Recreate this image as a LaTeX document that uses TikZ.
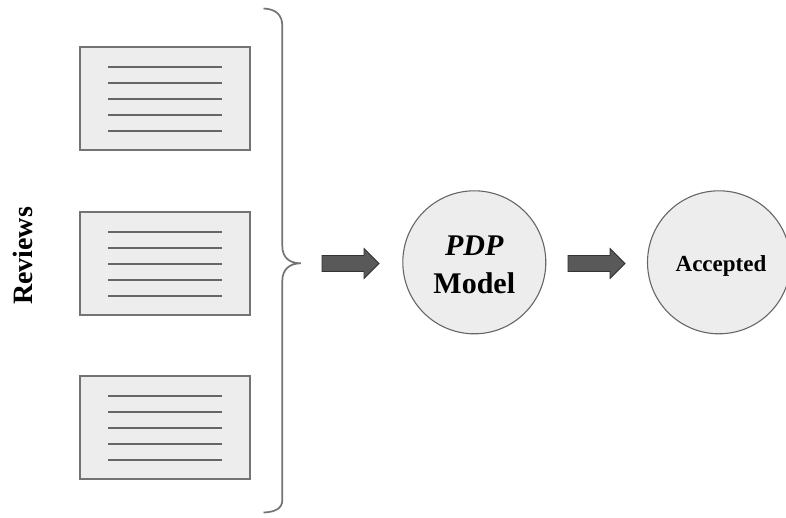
\documentclass[tikz,border=0pt]{standalone}
\usepackage{fontspec}
\setmainfont{Liberation Serif}
\usetikzlibrary{calc}
\begin{document}
\begin{tikzpicture}[x=1pt,y=-1pt,
  docbox/.style={draw=black!55,line width=2pt,fill=black!7,minimum width=170pt,minimum height=103pt,inner sep=0pt},
  docline/.style={draw=black!60,line width=2pt},
  brace/.style={draw=black!55,line width=1.7pt},
  stage/.style={circle,draw=black!60,line width=1.1pt,fill=black!7,minimum size=143pt,inner sep=0pt},
  blockarrow/.style={fill=black!65,draw=black!80,line width=0.8pt,line join=miter},
  lbl/.style={font=\bfseries,inner sep=0pt}]
\useasboundingbox (0,0) rectangle (786,517);
% documents
\node[docbox] (d1) at (165,98) {};
\node[docbox] (d2) at (165,263) {};
\node[docbox] (d3) at (165,427) {};
\foreach \d in {d1,d2,d3}{
  \foreach \o in {-32,-16,0,16,32}{
    \draw[docline] ($(\d.center)+(-57,\o+0.5)$) -- ($(\d.center)+(57,\o+0.5)$);
  }
}
% reviews label
\node[lbl,rotate=90,anchor=south,font=\bfseries\fontsize{28}{30}\selectfont] (rev) at (33.3,256) {Reviews};
% brace
\coordinate (btop) at (263.5,8.5);
\coordinate (btip) at (300.7,263.3);
\coordinate (bbot) at (263.5,512.5);
\draw[brace] (btop) .. controls (276,9) and (282.3,15) .. (282.3,26)
  -- (282.3,246) .. controls (282.3,258) and (290,263.3) .. (btip)
  .. controls (290,263.3) and (282.3,269) .. (282.3,281)
  -- (282.3,500) .. controls (282.3,508) and (276,512) .. (bbot);
% circles
\node[stage] (pdp) at (474.3,262.3) {};
\node[lbl,align=center,font=\bfseries\fontsize{30}{38}\selectfont,anchor=base] (pdpt) at (474.3,293) {\textit{PDP}\\Model};
\node[stage] (acc) at (719,262.3) {};
\node[lbl,font=\bfseries\fontsize{23}{26}\selectfont,anchor=base] (acct) at (721,271.7) {Accepted};
% block arrows
\coordinate (a1) at (322,263.5);
\coordinate (a2) at (568,263.5);
\foreach \a in {a1,a2}{
  \draw[blockarrow] ($(\a)+(0,-8)$) -- ++(42,0) -- ++(0,-7) -- ($(\a)+(57,0)$)
    -- ($(\a)+(42,15)$) -- ++(0,-7) -- ($(\a)+(0,8)$) -- cycle;
}
\end{tikzpicture}
\end{document}
